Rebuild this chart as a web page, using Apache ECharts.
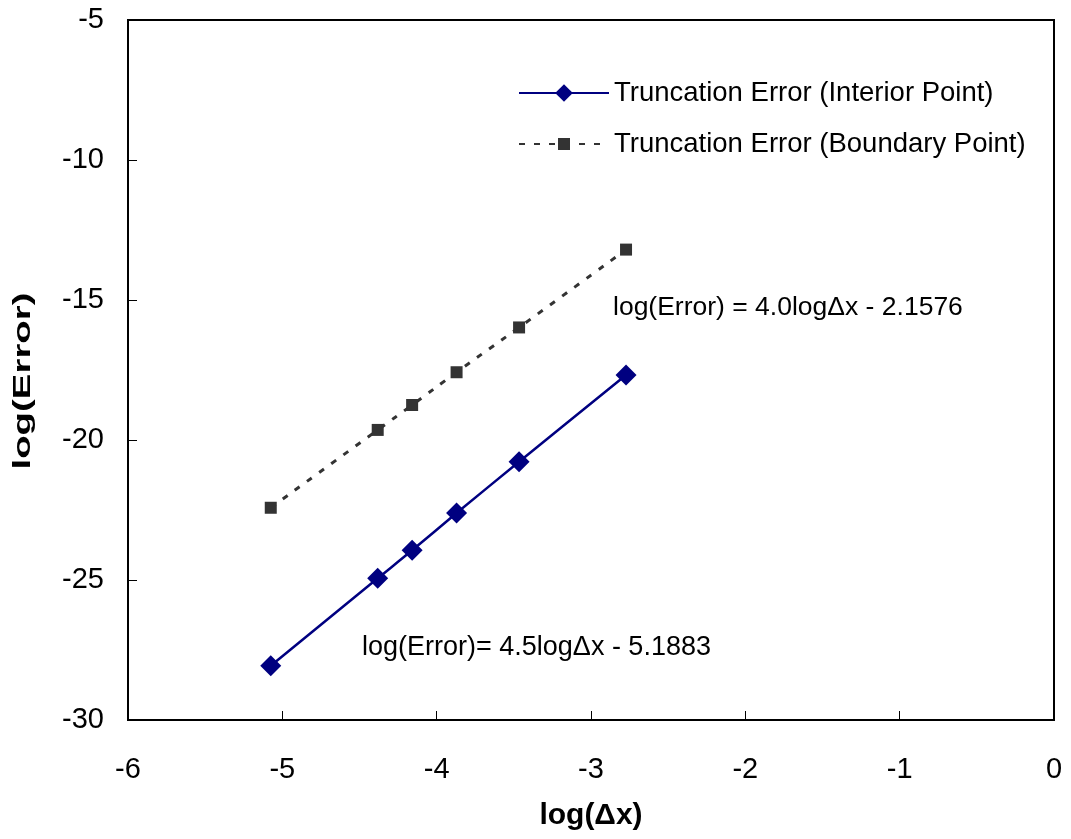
<!DOCTYPE html>
<html>
<head>
<meta charset="utf-8">
<script src="https://cdn.jsdelivr.net/npm/echarts@6/dist/echarts.min.js"></script>
<style>html,body{margin:0;padding:0;background:#fff}#c{width:1071px;height:839px}</style>
</head>
<body>
<div id="c"></div>
<script>
var logDx = [-5.075, -4.382, -4.159, -3.871, -3.466, -2.773];
var interior = [-28.06, -24.94, -23.94, -22.61, -20.78, -17.68];
var boundary = [-22.42, -19.64, -18.75, -17.58, -15.98, -13.20];
var xTicks = [-6, -5, -4, -3, -2, -1, 0];
var yTicks = [-30, -25, -20, -15, -10, -5];
var seriesNames = ['Truncation Error (Interior Point)', 'Truncation Error (Boundary Point)'];
var eqInterior = 'log(Error)= 4.5log\u0394x - 5.1883';
var eqBoundary = 'log(Error) = 4.0log\u0394x - 2.1576';
var xTitle = 'log(\u0394x)';
var yTitle = 'log(Error)';

function pairs(xs, ys){ return xs.map(function(x,i){ return [x, ys[i]]; }); }
var FF = '"Liberation Sans", Arial, sans-serif';
var chart = echarts.init(document.getElementById('c'));
chart.setOption({
  animation: false,
  backgroundColor: '#fff',
  grid: {left: 128, right: 17, top: 20, bottom: 119, show: true, borderColor: '#000', borderWidth: 2},
  xAxis: {
    type: 'value', min: xTicks[0], max: xTicks[xTicks.length-1], interval: 1,
    name: xTitle, nameLocation: 'middle', nameGap: 81,
    nameTextStyle: {fontFamily: FF, fontSize: 30, fontWeight: 'bold', color: '#000'},
    axisLine: {onZero: false, lineStyle: {color: '#000', width: 2}},
    axisTick: {inside: true, length: 9, lineStyle: {color: '#000', width: 1}},
    axisLabel: {margin: 35, fontFamily: FF, fontSize: 29, color: '#000'},
    splitLine: {show: false}
  },
  yAxis: {
    type: 'value', min: yTicks[0], max: yTicks[yTicks.length-1], interval: 5,
    axisLine: {onZero: false, lineStyle: {color: '#000', width: 2}},
    axisTick: {inside: true, length: 9, lineStyle: {color: '#000', width: 1}},
    axisLabel: {margin: 24, fontFamily: FF, fontSize: 29, color: '#000'},
    splitLine: {show: false}
  },
  legend: [
    {
      orient: 'vertical', left: 513, top: 74, itemWidth: 90, itemHeight: 22,
      textStyle: {fontFamily: FF, fontSize: 27.5, color: '#000'},
      data: [seriesNames[0]]
    },
    {
      orient: 'vertical', left: 513, top: 125, itemWidth: 90, itemHeight: 15,
      textStyle: {fontFamily: FF, fontSize: 27.5, color: '#000'},
      data: [seriesNames[1]]
    }
  ],
  series: [
    {
      name: seriesNames[0], type: 'line', smooth: 0.35,
      data: pairs(logDx, interior),
      symbol: 'diamond', symbolSize: 21,
      itemStyle: {color: '#000080'},
      lineStyle: {color: '#000080', width: 2.5}
    },
    {
      name: seriesNames[1], type: 'line', smooth: 0.5,
      data: pairs(logDx, boundary),
      symbol: 'rect', symbolSize: 12,
      itemStyle: {color: '#333333'},
      lineStyle: {color: '#333333', width: 3, type: [6, 9]}
    }
  ],
  graphic: [
    {type: 'text', x: 613, y: 308, style: {text: eqBoundary, font: '26.5px ' + FF, fill: '#000', verticalAlign: 'middle'}},
    {type: 'text', x: 362, y: 648, style: {text: eqInterior, font: '27px ' + FF, fill: '#000', verticalAlign: 'middle'}},
    {type: 'text', x: 23, y: 381, rotation: Math.PI / 2, scaleX: 1.6,
     style: {text: yTitle, font: 'bold 24px ' + FF, fill: '#000', align: 'center', verticalAlign: 'middle'}}
  ]
});
</script>
</body>
</html>
